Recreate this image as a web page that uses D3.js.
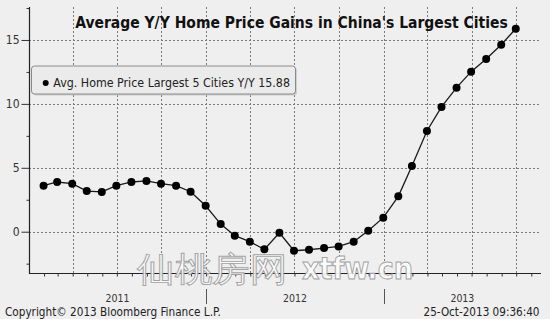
<!DOCTYPE html>
<html><head><meta charset="utf-8">
<script src="https://cdn.jsdelivr.net/npm/d3@7"></script>
<style>
html,body{margin:0;padding:0;background:#fff;}
svg{display:block;}
text{font-family:"DejaVu Sans Condensed","DejaVu Sans",sans-serif;font-stretch:condensed;}
</style></head>
<body>
<svg id="chart" width="550" height="328"></svg>
<script>
// ---- data ----
const months = ["2011-01","2011-02","2011-03","2011-04","2011-05","2011-06","2011-07","2011-08","2011-09","2011-10","2011-11","2011-12",
"2012-01","2012-02","2012-03","2012-04","2012-05","2012-06","2012-07","2012-08","2012-09","2012-10","2012-11","2012-12",
"2013-01","2013-02","2013-03","2013-04","2013-05","2013-06","2013-07","2013-08","2013-09"];
const values = [3.60,3.89,3.76,3.18,3.11,3.60,3.89,3.97,3.76,3.60,3.13,2.03,
0.60,-0.31,-0.78,-1.38,-0.08,-1.49,-1.41,-1.28,-1.15,-0.78,0.08,1.10,
2.77,5.14,7.88,9.76,11.27,12.52,13.51,14.63,15.88];
const yMajorTicks = [0,5,10,15];
const yMinorTicks = [-2.5,2.5,7.5,12.5,17.5];
const yearLabels = ["2011","2012","2013"];
const title = "Average Y/Y Home Price Gains in China's Largest Cities";
const legendLabel = "Avg. Home Price Largest 5 Cities Y/Y 15.88";
const copyright = "Copyright\u00A9 2013 Bloomberg Finance L.P.";
const stamp = "25-Oct-2013 09:36:40";
const watermarkCJK = "仙桃房网";
const watermarkLatin = "xtfw.cn";

// ---- layout ----
const svg = d3.select("#chart");
const L = 29, R = 541, T = 7, B = 273;
const parseM = d3.timeParse("%Y-%m");
const pts = months.map((m,i)=>({date: d3.timeDay.offset(d3.timeMonth.offset(parseM(m),1),-1), v: values[i]}));
const x = d3.scaleTime().domain([new Date(2011,0,1), new Date(2013,10,21)]).range([L,R]);
const y = d3.scaleLinear().domain([-3.23, 17.58]).range([B,T]);

function fitWidth(sel, target){
  const n = sel.node(); const fs = parseFloat(sel.attr("font-size"));
  const w = n.getComputedTextLength();
  if (w>0) sel.attr("font-size", (fs*target/w).toFixed(2));
  return sel;
}

// backgrounds
svg.append("rect").attr("x",0).attr("y",0).attr("width",550).attr("height",328).attr("fill","#ffffff");
svg.append("rect").attr("x",0).attr("y",0).attr("width",550).attr("height",319).attr("fill","#efefef");

// gridlines
const quarters = d3.timeMonth.every(3).range(new Date(2011,1,1), new Date(2013,10,21));
svg.append("g").selectAll("line").data(quarters).join("line")
  .attr("x1",d=>Math.round(x(d))+0.5).attr("x2",d=>Math.round(x(d))+0.5).attr("y1",T).attr("y2",B)
  .attr("stroke","#7a7a7a").attr("stroke-width",1).attr("stroke-dasharray","2,2");
svg.append("g").selectAll("line").data(yMajorTicks).join("line")
  .attr("x1",L).attr("x2",R).attr("y1",d=>Math.round(y(d))+0.5).attr("y2",d=>Math.round(y(d))+0.5)
  .attr("stroke","#7a7a7a").attr("stroke-width",1).attr("stroke-dasharray","2,2");

// y axis
const yAxis = d3.axisLeft(y).tickValues(yMajorTicks).tickSize(8).tickPadding(2).tickFormat(d3.format("d"));
const gy = svg.append("g").attr("transform",`translate(${L+0.5},0)`).call(yAxis);
gy.select(".domain").remove();
gy.selectAll("line").attr("stroke","#333");
gy.selectAll("text").attr("font-size",12).attr("fill","#333")
  .attr("font-family",'"DejaVu Sans Condensed","DejaVu Sans",sans-serif');
const yMinor = d3.axisLeft(y).tickValues(yMinorTicks).tickSize(3).tickFormat("");
const gym = svg.append("g").attr("transform",`translate(${L+0.5},0)`).call(yMinor);
gym.select(".domain").remove();
gym.selectAll("line").attr("stroke","#333");
svg.append("line").attr("x1",L+0.5).attr("x2",L+0.5).attr("y1",T).attr("y2",B+0.5).attr("stroke","#222").attr("stroke-width",1.2);

// x axis with monthly ticks
const monthsTicks = d3.timeMonth.range(new Date(2011,1,1), new Date(2013,10,21));
const xAxis = d3.axisBottom(x).tickValues(monthsTicks).tickSize(3).tickFormat("");
const gx = svg.append("g").attr("transform",`translate(0,${B+0.5})`).call(xAxis);
gx.select(".domain").attr("stroke","#222").attr("stroke-width",1.2).attr("d",`M${L},0H${R}`);
gx.selectAll(".tick line").attr("stroke","#333");

// year separators and labels
const yearStarts = yearLabels.map(s=>new Date(+s,0,1));
svg.append("g").selectAll("line").data(yearStarts.slice(1)).join("line")
  .attr("x1",d=>Math.round(x(d))+0.5).attr("x2",d=>Math.round(x(d))+0.5).attr("y1",289).attr("y2",304)
  .attr("stroke","#555").attr("stroke-width",1);
const yl = svg.append("g").selectAll("text").data(yearLabels).join("text")
  .attr("x",(d,i)=> (x(yearStarts[i]) + (i<yearLabels.length-1 ? x(yearStarts[i+1]) : R)) /2 )
  .attr("y",302).attr("text-anchor","middle").attr("font-size",12).attr("fill","#333").text(d=>d);
yl.each(function(){ fitWidth(d3.select(this),24); });

// watermark
svg.append("text").attr("x",137).attr("y",281).attr("font-size",34)
  .attr("font-family",'"Noto Sans CJK SC",sans-serif').attr("font-weight","500")
  .attr("textLength",150).attr("lengthAdjust","spacingAndGlyphs")
  .attr("fill","#fcfcfc").attr("fill-opacity",0.92).attr("stroke","#a2a2a2").attr("stroke-width",0.9).text(watermarkCJK);
svg.append("text").attr("x",302).attr("y",279).attr("font-size",30)
  .attr("font-family",'"Liberation Serif","DejaVu Serif",serif').attr("font-weight","bold")
  .attr("textLength",111).attr("lengthAdjust","spacingAndGlyphs")
  .attr("fill","#fcfcfc").attr("fill-opacity",0.92).attr("stroke","#a2a2a2").attr("stroke-width",0.9).text(watermarkLatin);

// series
const line = d3.line().x(d=>x(d.date)).y(d=>y(d.v));
svg.append("path").datum(pts).attr("d",line).attr("fill","none").attr("stroke","#1a1a1a").attr("stroke-width",1.3);
svg.append("g").selectAll("circle").data(pts).join("circle")
  .attr("cx",d=>x(d.date)).attr("cy",d=>y(d.v)).attr("r",4).attr("fill","#000");

// title
const t = svg.append("text").attr("x",291.5).attr("y",28).attr("text-anchor","middle")
  .attr("font-size",16).attr("font-weight","bold").attr("fill","#111").text(title);
fitWidth(t,433);

// legend
const lg = svg.append("g");
lg.append("rect").attr("x",33).attr("y",67.5).attr("width",264).attr("height",28).attr("rx",3)
  .attr("fill","#b8b8b8").attr("opacity",0.6);
lg.append("rect").attr("x",31.5).attr("y",66).attr("width",264).attr("height",28).attr("rx",3)
  .attr("fill","#ebebeb").attr("stroke","#8a8a8a").attr("stroke-width",1);
lg.append("circle").attr("cx",45.7).attr("cy",83).attr("r",3).attr("fill","#000");
const lt = lg.append("text").attr("x",53.3).attr("y",87).attr("font-size",12).attr("fill","#222").text(legendLabel);
fitWidth(lt,237);

// footer
const c1 = svg.append("text").attr("x",5).attr("y",316).attr("font-size",11).attr("fill","#222").text(copyright);
fitWidth(c1,216);
const c2 = svg.append("text").attr("x",539.5).attr("y",316).attr("text-anchor","end").attr("font-size",11).attr("fill","#222").text(stamp);
fitWidth(c2,116);
</script>
</body></html>
